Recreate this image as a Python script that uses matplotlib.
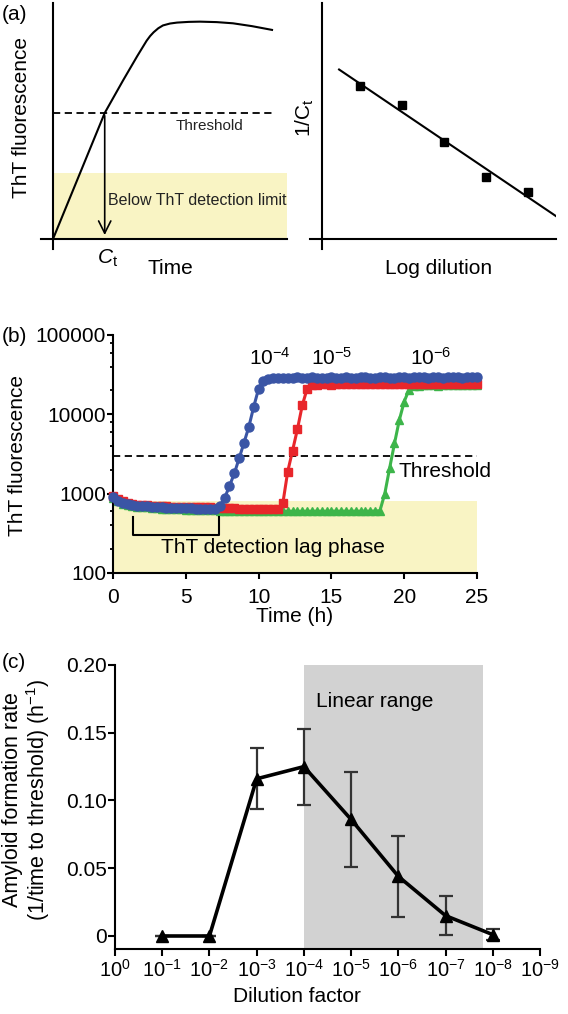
import numpy as np
import matplotlib
matplotlib.use("Agg")
import matplotlib.pyplot as plt
from matplotlib.ticker import LogLocator, NullFormatter

plt.rcParams['font.family'] = ['Liberation Sans', 'DejaVu Sans']
plt.rcParams['mathtext.fontset'] = 'custom'
plt.rcParams['mathtext.rm'] = 'Liberation Sans'
plt.rcParams['mathtext.it'] = 'Liberation Sans:italic'
plt.rcParams['mathtext.bf'] = 'Liberation Sans:bold'
plt.rcParams['font.size'] = 15
plt.rcParams['axes.linewidth'] = 1.5

# ---- (a) schematic, arbitrary units
sig_t = [0.0, 0.221, 0.30, 0.36, 0.40, 0.415, 0.43, 0.45, 0.47, 0.50, 0.53, 0.58, 0.628, 0.70, 0.769, 0.85, 0.936]
sig_f = [0.0, 0.534, 0.673, 0.775, 0.840, 0.860, 0.876, 0.893, 0.905, 0.913, 0.917, 0.920, 0.921, 0.919, 0.914, 0.902, 0.886]
thr_a = 0.534
ct_a = 0.221
limit_a = 0.28
log_dil = [0.162, 0.342, 0.521, 0.701, 0.880]
inv_ct = [0.648, 0.568, 0.411, 0.263, 0.199]

# ---- (b) ThT kinetics, one reading every 20 min
time_h = np.arange(76) / 3.0
blue = [900, 820, 770, 740, 720, 705, 695, 690, 680, 675, 670, 668, 665, 660, 658, 655, 652, 650, 648, 645, 645, 650,
        700, 880, 1250, 1800, 2800, 4400, 7000, 12500, 21000, 26500, 28000,
        28600, 28900, 29100, 28800, 29000, 29200, 28900, 29100, 29300, 29000,
        28800, 29100, 29200, 29000, 28900, 29300, 29100, 29000, 29200, 29400,
        29100, 28900, 29200, 29300, 29000, 29100, 29400, 29200, 29000, 29300,
        29500, 29200, 29100, 29400, 29300, 29000, 29200, 29500, 29300, 29100,
        29400, 29600, 29300]
red = [930, 850, 800, 770, 745, 730, 720, 712, 705, 700, 695, 690, 688, 685, 682, 680, 678, 676, 674, 672, 670, 668,
       665, 660, 655, 652, 650, 648, 645, 643, 640, 640, 642, 645, 650,
       760, 1900, 3500, 6500, 13000, 21000, 23500,
       23600, 23800, 24000, 23700, 23900, 24100, 23800, 24000, 24200, 23900,
       24000, 24100, 23800, 24200, 24000, 23900, 24100, 24300, 24000, 24100,
       24200, 23900, 24100, 24300, 24000, 24200, 24100, 24300, 24000, 24200,
       24400, 24100, 24300, 24200]
green = [880, 800, 750, 720, 700, 688, 678, 670, 662, 655, 650, 645, 640, 636, 632, 628, 625, 622, 620, 618,
         616, 614, 612, 611, 610, 609, 608, 607, 606, 605, 604, 603, 603, 602, 602, 601, 601, 600, 600, 600,
         601, 600, 602, 600, 601, 603, 600, 602, 601, 600, 602, 601, 603, 602, 604,
         610, 1000, 2100, 4300, 8500, 14500, 20500,
         22800, 23000, 23200, 23100, 23300, 23000, 23200, 23400, 23100, 23300, 23200, 23400, 23300, 23500]
threshold_b = 3000
detect_limit_b = 800
lag_start, lag_end = 1.4, 7.3

# ---- (c) rate vs dilution
dilution = [1e-1, 1e-2, 1e-3, 1e-4, 1e-5, 1e-6, 1e-7, 1e-8]
rate = [0.0, 0.0, 0.116, 0.125, 0.086, 0.044, 0.015, 0.001]
rate_err = [0.0, 0.0, 0.0225, 0.028, 0.035, 0.030, 0.0145, 0.004]
linear_lo, linear_hi = 1e-4, 10 ** -7.8
dil_ticks = [10.0 ** -n for n in range(10)]
dil_labels = ['10$^{0}$'] + ['10$^{-%d}$' % n for n in range(1, 10)]

W, H = 568, 1014
fig = plt.figure(figsize=(W / 100, H / 100), dpi=100)


def frac(x0, y0, x1, y1):
    return [x0 / W, 1 - y1 / H, (x1 - x0) / W, (y1 - y0) / H]


yellow = '#f9f4c4'

# ---------------- (a) left
axL = fig.add_axes(frac(41, 3, 287, 249))
axL.set_xlim(-12 / 234, 1)
axL.set_ylim(-10 / 236, 1)
for s in ['top', 'right']:
    axL.spines[s].set_visible(False)
axL.spines['left'].set_position(('data', 0))
axL.spines['bottom'].set_position(('data', 0))
axL.set_xticks([])
axL.set_yticks([])
axL.patch.set_alpha(0)
axL.fill_between([0, 1], 0, limit_a, color=yellow, lw=0)
axL.plot(sig_t, sig_f, color='black', lw=1.5)
axL.plot([0, sig_t[-1]], [thr_a, thr_a], color='black', lw=1.3, ls=(0, (4, 2.5)))
axL.annotate('', xy=(ct_a, 0.005), xytext=(ct_a, thr_a),
             arrowprops=dict(arrowstyle='->', lw=1.2, color='black', mutation_scale=22))
axL.text(0.67, 0.479, 'Threshold', fontsize=11, ha='center', va='center', color='#222222')
axL.text(0.235, 0.165, 'Below ThT detection limit', fontsize=11.5, ha='left', va='center', color='#222222')
axL.text(0.235, -0.08, r'$\mathit{C}_\mathrm{t}$', fontsize=15, ha='center', va='center')
axL.text(0.5, -0.125, 'Time', fontsize=15, ha='center', va='center')
fig.text(22 / W, 1 - 118 / H, 'ThT fluorescence', rotation=90, ha='center', va='center', fontsize=15)
fig.text(2 / W, 1 - 15 / H, '(a)', ha='left', va='center', fontsize=15)

# ---------------- (a) right
axR = fig.add_axes(frac(310, 3, 556, 249))
axR.set_xlim(-12 / 234, 1)
axR.set_ylim(-10 / 236, 1)
for s in ['top', 'right']:
    axR.spines[s].set_visible(False)
axR.spines['left'].set_position(('data', 0))
axR.spines['bottom'].set_position(('data', 0))
axR.set_xticks([])
axR.set_yticks([])
axR.patch.set_alpha(0)
k, b = np.polyfit(log_dil, inv_ct, 1)
xf = np.array([0.073, 1.0])
axR.plot(xf, k * xf + b, color='black', lw=1.5)
axR.plot(log_dil, inv_ct, ls='none', marker='s', ms=5.5, color='black')
axR.text(0.5, -0.125, 'Log dilution', fontsize=15, ha='center', va='center')
fig.text(305 / W, 1 - 118 / H, '1/C$_\\mathrm{t}$', rotation=90, ha='center', va='center', fontsize=15)

# ---------------- (b)
axB = fig.add_axes(frac(113, 335, 477, 573))
axB.set_yscale('log')
axB.set_xlim(0, 25)
axB.set_ylim(100, 100000)
axB.spines['top'].set_visible(False)
axB.spines['right'].set_visible(False)
axB.fill_between([0, 25], 100, detect_limit_b, color=yellow, lw=0, zorder=0)
axB.plot([0, 25], [threshold_b, threshold_b], color='black', lw=1.3, ls=(0, (4, 2.5)), zorder=1)
axB.plot(time_h, green, color='#3db54a', marker='^', ms=5.5, lw=2.2, clip_on=False, zorder=2)
axB.plot(time_h, red, color='#e8262b', marker='s', ms=5.5, lw=2.2, clip_on=False, zorder=3)
axB.plot(time_h, blue, color='#3a55a5', marker='o', ms=6.5, lw=2.2, clip_on=False, zorder=4)
axB.plot([lag_start, lag_start, lag_end, lag_end], [514, 305, 305, 514], color='black', lw=1.5, zorder=5)
axB.text(11.0, 209, 'ThT detection lag phase', fontsize=15, ha='center', va='center')
axB.text(10.8, 51500, '10$^{-4}$', fontsize=15, ha='center', va='center')
axB.text(15.0, 51500, '10$^{-5}$', fontsize=15, ha='center', va='center')
axB.text(21.8, 51500, '10$^{-6}$', fontsize=15, ha='center', va='center')
axB.text(19.6, 1890, 'Threshold', fontsize=15, ha='left', va='center')
axB.set_xticks([0, 5, 10, 15, 20, 25])
axB.set_yticks([100, 1000, 10000, 100000])
axB.set_yticklabels(['100', '1000', '10000', '100000'])
axB.yaxis.set_minor_locator(LogLocator(base=10, subs=(2, 4, 6, 8)))
axB.yaxis.set_minor_formatter(NullFormatter())
axB.tick_params(axis='both', which='major', direction='out', length=4.5, width=1.5, labelsize=15)
axB.tick_params(axis='y', which='major', pad=0.5)
axB.tick_params(axis='x', which='major', pad=6)
axB.tick_params(axis='y', which='minor', direction='out', length=2.5, width=1.3)
fig.text(295 / W, 1 - 616 / H, 'Time (h)', ha='center', va='center', fontsize=15)
fig.text(18 / W, 1 - 455 / H, 'ThT fluorescence', rotation=90, ha='center', va='center', fontsize=15)
fig.text(2 / W, 1 - 336 / H, '(b)', ha='left', va='center', fontsize=15)

# ---------------- (c)
axC = fig.add_axes(frac(115, 665, 540, 949))
axC.set_xscale('log')
axC.set_xlim(1, 1e-9)
axC.set_ylim(-0.0096, 0.2)
axC.spines['top'].set_visible(False)
axC.spines['right'].set_visible(False)
axC.axvspan(linear_lo, linear_hi, ymin=0, ymax=1, color='#d2d2d2', lw=0, zorder=0)
axC.errorbar(dilution, rate, yerr=rate_err, color='black', ecolor='#333333', elinewidth=1.6,
             capsize=5, capthick=1.6, lw=2.6, marker='^', ms=8, clip_on=False, zorder=3)
axC.text(3.2e-6, 0.1727, 'Linear range', fontsize=15, ha='center', va='center')
axC.set_xticks(dil_ticks)
axC.set_xticklabels(dil_labels)
axC.xaxis.set_minor_locator(LogLocator(base=10, subs=np.arange(2, 10)))
axC.xaxis.set_minor_formatter(NullFormatter())
axC.set_yticks([0, 0.05, 0.10, 0.15, 0.20])
axC.set_yticklabels(['0', '0.05', '0.10', '0.15', '0.20'])
axC.tick_params(axis='both', which='major', direction='out', length=5, width=1.5, labelsize=15)
axC.tick_params(axis='x', which='major', labelsize=14.5, pad=2)
axC.tick_params(axis='y', which='major', pad=1)
axC.tick_params(axis='x', which='minor', direction='out', length=2.5, width=1.3)
fig.text(297 / W, 1 - 997 / H, 'Dilution factor', ha='center', va='center', fontsize=15)
fig.text(27 / W, 1 - 800 / H, 'Amyloid formation rate\n(1/time to threshold) (h$^{-1}$)', rotation=90,
         ha='center', va='center', fontsize=15.5, linespacing=1.1)
fig.text(2 / W, 1 - 662 / H, '(c)', ha='left', va='center', fontsize=15)

fig.savefig('out.png', dpi=100)
